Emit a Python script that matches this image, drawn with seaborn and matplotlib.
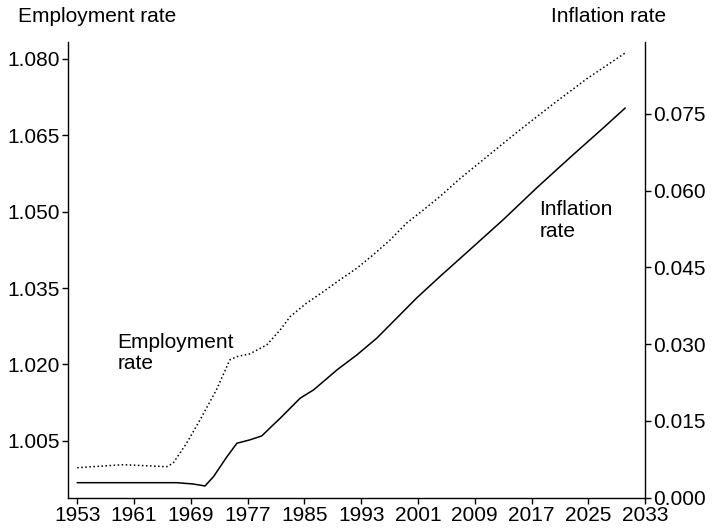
import matplotlib
matplotlib.use("Agg")
import matplotlib.pyplot as plt
import seaborn as sns
import pandas as pd

# values
emp_years = [1953.0, 1959.5, 1965.6, 1966.5, 1968.4, 1970.3, 1972.6, 1974.5, 1975.5, 1977.3,
             1979.7, 1981.6, 1983.0, 1985.3, 1987.7, 1990.0, 1992.4, 1994.7, 1997.1,
             1999.4, 2001.8, 2004.1, 2006.9, 2010.7, 2015.4, 2020.1, 2024.8, 2030.2]
emp_rate = [0.99975, 1.00034, 0.99995, 1.00062, 1.00454, 1.00912, 1.01501, 1.0209, 1.02155,
            1.02208, 1.02384, 1.02679, 1.0294, 1.03203, 1.03431, 1.03661, 1.0389, 1.04152,
            1.04446, 1.04774, 1.05035, 1.05296, 1.05644, 1.06076, 1.06606, 1.07116,
            1.07607, 1.08112]

inf_years = [1953.0, 1967.0, 1969.3, 1971.0, 1972.2, 1974.1, 1975.5, 1977.3, 1979.0, 1980.6,
             1981.6, 1984.4, 1986.3, 1989.6, 1992.4, 1995.2, 1998.0, 2000.8, 2004.1,
             2008.3, 2013.0, 2017.7, 2022.6, 2027.1, 2030.2]
inf_rate = [0.00293, 0.00293, 0.00268, 0.00229, 0.00411, 0.00802, 0.01064, 0.01129, 0.01207,
            0.01422, 0.01553, 0.01944, 0.02107, 0.02498, 0.02791, 0.03118, 0.03509, 0.03901,
            0.04323, 0.04845, 0.05432, 0.06052, 0.06671, 0.07226, 0.07617]

x_ticks = list(range(1953, 2034, 8))
left_ticks = [1.005, 1.020, 1.035, 1.050, 1.065, 1.080]
right_ticks = [0.000, 0.015, 0.030, 0.045, 0.060, 0.075]

emp = pd.DataFrame({"year": emp_years, "rate": emp_rate})
inf = pd.DataFrame({"year": inf_years, "rate": inf_rate})

sns.set_style("ticks")
plt.rcParams["font.family"] = ["Liberation Sans", "DejaVu Sans"]
plt.rcParams["font.size"] = 15
plt.rcParams["text.color"] = "black"

fig = plt.figure(figsize=(7.12, 5.30), dpi=100)
ax = fig.add_axes([0.0955, 0.061, 0.8105, 0.860])
ax2 = ax.twinx()

sns.lineplot(data=emp, x="year", y="rate", ax=ax, color="black", linestyle=":", linewidth=1.1)
sns.lineplot(data=inf, x="year", y="rate", ax=ax2, color="black", linewidth=1.1)

ax.set_xlim(1951.7, 2033)
ax.set_ylim(0.99387, 1.0833)
ax2.set_ylim(0, 0.0891)

ax.set_xticks(x_ticks)
ax.set_yticks(left_ticks)
ax.set_yticklabels([f"{v:.3f}" for v in left_ticks])
ax2.set_yticks(right_ticks)
ax2.set_yticklabels([f"{v:.3f}" for v in right_ticks])

ax.set_xlabel("")
ax.set_ylabel("")
ax2.set_ylabel("")

for a in (ax, ax2):
    a.spines["top"].set_visible(False)
    for s in a.spines.values():
        s.set_linewidth(1.0)
        s.set_color("black")
    a.tick_params(length=4, width=1.0, pad=2, labelsize=15, colors="black")

ax.spines["right"].set_visible(False)
ax2.spines["left"].set_visible(False)
ax2.spines["bottom"].set_visible(False)

fig.text(18 / 712, 1 - 16 / 530, "Employment rate", ha="left", va="center", fontsize=15)
fig.text(666 / 712, 1 - 16 / 530, "Inflation rate", ha="right", va="center", fontsize=15)

ax2.text(1958.7, 0.0283, "Employment\nrate", ha="left", va="center", fontsize=15,
         linespacing=1.15)
ax2.text(2018.1, 0.0542, "Inflation\nrate", ha="left", va="center", fontsize=15,
         linespacing=1.15)

fig.savefig("out.png", dpi=100)
